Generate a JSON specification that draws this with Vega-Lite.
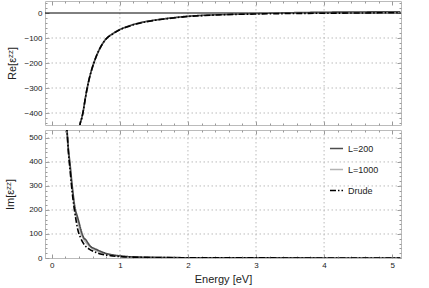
{
  "$schema": "https://vega.github.io/schema/vega-lite/v6.json",
  "padding": {"left": 4, "top": -2, "right": 0, "bottom": 0},
  "spacing": 0,
  "config": {
    "view": {"stroke": "#bbbbbb", "strokeWidth": 1},
    "font": "Liberation Sans",
    "axis": {
      "domain": false,
      "grid": false,
      "minExtent": 0,
      "tickColor": "#999999",
      "labelOverlap": false,
      "labelPadding": 7,
      "labelFont": "Liberation Sans",
      "labelFontSize": 8,
      "labelColor": "#222222",
      "titleFont": "Liberation Sans",
      "titleFontWeight": "normal",
      "titleFontSize": 11,
      "titleColor": "#222222"
    },
    "legend": {
      "symbolType": "stroke", "symbolSize": 170, "symbolStrokeWidth": 1.6,
      "labelFont": "Liberation Sans", "labelFontSize": 9, "labelColor": "#222222",
      "rowPadding": 8, "labelOffset": 4
    }
  },
  "datasets": {
    "re": [
      {"s": "L=1000", "x": 0.36, "y": -640}, {"s": "L=1000", "x": 0.39, "y": -520}, {"s": "L=1000", "x": 0.41, "y": -455}, {"s": "L=1000", "x": 0.44, "y": -420}, {"s": "L=1000", "x": 0.46, "y": -395}, {"s": "L=1000", "x": 0.49, "y": -345}, {"s": "L=1000", "x": 0.52, "y": -300}, {"s": "L=1000", "x": 0.56, "y": -252}, {"s": "L=1000", "x": 0.62, "y": -198}, {"s": "L=1000", "x": 0.7, "y": -145}, {"s": "L=1000", "x": 0.79, "y": -106}, {"s": "L=1000", "x": 0.9, "y": -82}, {"s": "L=1000", "x": 1.0, "y": -66}, {"s": "L=1000", "x": 1.1, "y": -55}, {"s": "L=1000", "x": 1.2, "y": -46}, {"s": "L=1000", "x": 1.35, "y": -36}, {"s": "L=1000", "x": 1.5, "y": -29}, {"s": "L=1000", "x": 1.75, "y": -20}, {"s": "L=1000", "x": 2.0, "y": -13}, {"s": "L=1000", "x": 2.25, "y": -9}, {"s": "L=1000", "x": 2.5, "y": -6}, {"s": "L=1000", "x": 3.0, "y": -2}, {"s": "L=1000", "x": 3.5, "y": 0}, {"s": "L=1000", "x": 4.0, "y": 2}, {"s": "L=1000", "x": 4.5, "y": 3}, {"s": "L=1000", "x": 5.0, "y": 4}, {"s": "L=1000", "x": 5.12, "y": 4},
      {"s": "L=200", "x": 0.36, "y": -640}, {"s": "L=200", "x": 0.39, "y": -520}, {"s": "L=200", "x": 0.41, "y": -455}, {"s": "L=200", "x": 0.44, "y": -420}, {"s": "L=200", "x": 0.46, "y": -395}, {"s": "L=200", "x": 0.49, "y": -345}, {"s": "L=200", "x": 0.52, "y": -300}, {"s": "L=200", "x": 0.56, "y": -252}, {"s": "L=200", "x": 0.62, "y": -198}, {"s": "L=200", "x": 0.7, "y": -145}, {"s": "L=200", "x": 0.79, "y": -106}, {"s": "L=200", "x": 0.9, "y": -82}, {"s": "L=200", "x": 1.0, "y": -66}, {"s": "L=200", "x": 1.1, "y": -55}, {"s": "L=200", "x": 1.2, "y": -46}, {"s": "L=200", "x": 1.35, "y": -36}, {"s": "L=200", "x": 1.5, "y": -29}, {"s": "L=200", "x": 1.75, "y": -20}, {"s": "L=200", "x": 2.0, "y": -13}, {"s": "L=200", "x": 2.25, "y": -9}, {"s": "L=200", "x": 2.5, "y": -6}, {"s": "L=200", "x": 3.0, "y": -2}, {"s": "L=200", "x": 3.5, "y": 1}, {"s": "L=200", "x": 4.0, "y": 3}, {"s": "L=200", "x": 4.5, "y": 4}, {"s": "L=200", "x": 5.0, "y": 5}, {"s": "L=200", "x": 5.12, "y": 5},
      {"s": "Drude", "x": 0.36, "y": -640}, {"s": "Drude", "x": 0.39, "y": -520}, {"s": "Drude", "x": 0.41, "y": -455}, {"s": "Drude", "x": 0.44, "y": -420}, {"s": "Drude", "x": 0.46, "y": -395}, {"s": "Drude", "x": 0.49, "y": -345}, {"s": "Drude", "x": 0.52, "y": -300}, {"s": "Drude", "x": 0.56, "y": -252}, {"s": "Drude", "x": 0.62, "y": -198}, {"s": "Drude", "x": 0.7, "y": -145}, {"s": "Drude", "x": 0.79, "y": -106}, {"s": "Drude", "x": 0.9, "y": -83}, {"s": "Drude", "x": 1.0, "y": -67}, {"s": "Drude", "x": 1.1, "y": -56}, {"s": "Drude", "x": 1.2, "y": -47}, {"s": "Drude", "x": 1.35, "y": -37}, {"s": "Drude", "x": 1.5, "y": -30}, {"s": "Drude", "x": 1.75, "y": -21}, {"s": "Drude", "x": 2.0, "y": -14}, {"s": "Drude", "x": 2.25, "y": -10}, {"s": "Drude", "x": 2.5, "y": -7}, {"s": "Drude", "x": 3.0, "y": -4}, {"s": "Drude", "x": 3.5, "y": -2}, {"s": "Drude", "x": 4.0, "y": -1}, {"s": "Drude", "x": 4.5, "y": 0}, {"s": "Drude", "x": 5.0, "y": 1}, {"s": "Drude", "x": 5.12, "y": 1}
    ],
    "im": [
      {"s": "L=1000", "x": 0.205, "y": 600}, {"s": "L=1000", "x": 0.22, "y": 530}, {"s": "L=1000", "x": 0.24, "y": 450}, {"s": "L=1000", "x": 0.26, "y": 400}, {"s": "L=1000", "x": 0.295, "y": 300}, {"s": "L=1000", "x": 0.34, "y": 200}, {"s": "L=1000", "x": 0.365, "y": 170}, {"s": "L=1000", "x": 0.4, "y": 132}, {"s": "L=1000", "x": 0.43, "y": 102}, {"s": "L=1000", "x": 0.47, "y": 78}, {"s": "L=1000", "x": 0.51, "y": 62}, {"s": "L=1000", "x": 0.56, "y": 47}, {"s": "L=1000", "x": 0.6, "y": 38}, {"s": "L=1000", "x": 0.66, "y": 30}, {"s": "L=1000", "x": 0.72, "y": 23}, {"s": "L=1000", "x": 0.8, "y": 17}, {"s": "L=1000", "x": 0.9, "y": 11}, {"s": "L=1000", "x": 1.0, "y": 8}, {"s": "L=1000", "x": 1.2, "y": 4.5}, {"s": "L=1000", "x": 1.5, "y": 2.3}, {"s": "L=1000", "x": 2.0, "y": 1.1}, {"s": "L=1000", "x": 3.0, "y": 0.5}, {"s": "L=1000", "x": 4.0, "y": 0.25}, {"s": "L=1000", "x": 5.0, "y": 0.15}, {"s": "L=1000", "x": 5.12, "y": 0.15},
      {"s": "L=200", "x": 0.21, "y": 600}, {"s": "L=200", "x": 0.225, "y": 530}, {"s": "L=200", "x": 0.245, "y": 450}, {"s": "L=200", "x": 0.265, "y": 400}, {"s": "L=200", "x": 0.3, "y": 300}, {"s": "L=200", "x": 0.35, "y": 196}, {"s": "L=200", "x": 0.37, "y": 178}, {"s": "L=200", "x": 0.4, "y": 148}, {"s": "L=200", "x": 0.435, "y": 110}, {"s": "L=200", "x": 0.47, "y": 84}, {"s": "L=200", "x": 0.5, "y": 76}, {"s": "L=200", "x": 0.53, "y": 63}, {"s": "L=200", "x": 0.57, "y": 48}, {"s": "L=200", "x": 0.62, "y": 40}, {"s": "L=200", "x": 0.66, "y": 35}, {"s": "L=200", "x": 0.72, "y": 27}, {"s": "L=200", "x": 0.8, "y": 19}, {"s": "L=200", "x": 0.9, "y": 13}, {"s": "L=200", "x": 1.0, "y": 9}, {"s": "L=200", "x": 1.1, "y": 6}, {"s": "L=200", "x": 1.25, "y": 4}, {"s": "L=200", "x": 1.5, "y": 2.5}, {"s": "L=200", "x": 2.0, "y": 1.2}, {"s": "L=200", "x": 3.0, "y": 0.5}, {"s": "L=200", "x": 4.0, "y": 0.3}, {"s": "L=200", "x": 5.0, "y": 0.2}, {"s": "L=200", "x": 5.12, "y": 0.2},
      {"s": "Drude", "x": 0.2, "y": 600}, {"s": "Drude", "x": 0.22, "y": 540}, {"s": "Drude", "x": 0.25, "y": 420}, {"s": "Drude", "x": 0.27, "y": 360}, {"s": "Drude", "x": 0.29, "y": 300}, {"s": "Drude", "x": 0.31, "y": 248}, {"s": "Drude", "x": 0.33, "y": 205}, {"s": "Drude", "x": 0.36, "y": 150}, {"s": "Drude", "x": 0.38, "y": 120}, {"s": "Drude", "x": 0.42, "y": 86}, {"s": "Drude", "x": 0.46, "y": 63}, {"s": "Drude", "x": 0.5, "y": 48}, {"s": "Drude", "x": 0.55, "y": 37}, {"s": "Drude", "x": 0.6, "y": 29}, {"s": "Drude", "x": 0.65, "y": 23}, {"s": "Drude", "x": 0.7, "y": 18}, {"s": "Drude", "x": 0.8, "y": 12}, {"s": "Drude", "x": 0.9, "y": 8.5}, {"s": "Drude", "x": 1.0, "y": 6}, {"s": "Drude", "x": 1.2, "y": 3.5}, {"s": "Drude", "x": 1.5, "y": 2}, {"s": "Drude", "x": 2.0, "y": 1}, {"s": "Drude", "x": 3.0, "y": 0.4}, {"s": "Drude", "x": 4.0, "y": 0.2}, {"s": "Drude", "x": 5.0, "y": 0.1}, {"s": "Drude", "x": 5.12, "y": 0.1}
    ],
    "gx": [{"x": 1}, {"x": 2}, {"x": 3}, {"x": 4}],
    "gyTop": [{"y": -400}, {"y": -300}, {"y": -200}, {"y": -100}],
    "gyBot": [{"y": 100}, {"y": 200}, {"y": 300}, {"y": 400}, {"y": 500}],
    "zero": [{"y": 0}]
  },
  "vconcat": [
    {
      "width": 356,
      "height": 124,
      "resolve": {"axis": {"x": "independent", "y": "independent"}},
      "layer": [
        {
          "data": {"name": "gx"},
          "mark": {"type": "rule", "color": "#bbbbbb", "strokeDash": [1.5, 2.5], "strokeWidth": 1},
          "encoding": {"x": {"field": "x", "type": "quantitative", "scale": {"domain": [-0.1, 5.13], "nice": false, "zero": false},
            "axis": {"orient": "top", "title": null, "labels": false, "maxExtent": 0, "values": [0, 0.2, 0.4, 0.6, 0.8, 1, 1.2, 1.4, 1.6, 1.8, 2, 2.2, 2.4, 2.6, 2.8, 3, 3.2, 3.4, 3.6, 3.8, 4, 4.2, 4.4, 4.6, 4.8, 5],
              "tickSize": {"condition": {"test": "abs(datum.value - round(datum.value)) < 0.001", "value": -4}, "value": -2}}}}
        },
        {
          "data": {"name": "gyTop"},
          "mark": {"type": "rule", "color": "#bbbbbb", "strokeDash": [1.5, 2.5], "strokeWidth": 1},
          "encoding": {"y": {"field": "y", "type": "quantitative", "scale": {"domain": [-448, 48], "nice": false, "zero": false},
            "axis": {"orient": "right", "title": null, "labels": false, "maxExtent": 0, "values": [-440, -420, -400, -380, -360, -340, -320, -300, -280, -260, -240, -220, -200, -180, -160, -140, -120, -100, -80, -60, -40, -20, 0, 20, 40],
              "tickSize": {"condition": {"test": "datum.value % 100 === 0", "value": -4}, "value": -2}}}}
        },
        {
          "data": {"name": "zero"},
          "mark": {"type": "rule", "color": "#000000", "strokeWidth": 1},
          "encoding": {"y": {"field": "y", "type": "quantitative", "axis": null}}
        },
        {
          "data": {"name": "re"},
          "mark": {"type": "line", "clip": true, "strokeWidth": 1.6, "interpolate": "monotone"},
          "encoding": {
            "x": {"field": "x", "type": "quantitative",
              "axis": {"labels": false, "title": null, "maxExtent": 0, "values": [0, 0.2, 0.4, 0.6, 0.8, 1, 1.2, 1.4, 1.6, 1.8, 2, 2.2, 2.4, 2.6, 2.8, 3, 3.2, 3.4, 3.6, 3.8, 4, 4.2, 4.4, 4.6, 4.8, 5],
                "tickSize": {"condition": {"test": "abs(datum.value - round(datum.value)) < 0.001", "value": -4}, "value": -2}}},
            "y": {"field": "y", "type": "quantitative",
              "axis": {"title": "Re[εᶻᶻ]", "titlePadding": 6, "values": [-440, -420, -400, -380, -360, -340, -320, -300, -280, -260, -240, -220, -200, -180, -160, -140, -120, -100, -80, -60, -40, -20, 0, 20, 40],
                "labelExpr": "datum.value % 100 === 0 ? datum.label : ''",
                "tickSize": {"condition": {"test": "datum.value % 100 === 0", "value": -4}, "value": -2}}},
            "color": {"field": "s", "type": "nominal", "scale": {"domain": ["L=200", "L=1000", "Drude"], "range": ["#4d4d4d", "#b3b3b3", "#000000"]},
              "legend": {"title": null, "orient": "none", "legendX": 284, "legendY": 140}},
            "strokeDash": {"field": "s", "type": "nominal", "scale": {"domain": ["L=200", "L=1000", "Drude"], "range": [[1, 0], [1, 0], [6, 2, 1.5, 2]]},
              "legend": {"title": null, "orient": "none", "legendX": 284, "legendY": 140}}
          }
        }
      ]
    },
    {
      "width": 356,
      "height": 128,
      "resolve": {"axis": {"x": "independent", "y": "independent"}},
      "layer": [
        {
          "data": {"name": "gx"},
          "mark": {"type": "rule", "color": "#bbbbbb", "strokeDash": [1.5, 2.5], "strokeWidth": 1},
          "encoding": {"x": {"field": "x", "type": "quantitative", "scale": {"domain": [-0.1, 5.13], "nice": false, "zero": false},
            "axis": {"orient": "top", "title": null, "labels": false, "maxExtent": 0, "values": [0, 0.2, 0.4, 0.6, 0.8, 1, 1.2, 1.4, 1.6, 1.8, 2, 2.2, 2.4, 2.6, 2.8, 3, 3.2, 3.4, 3.6, 3.8, 4, 4.2, 4.4, 4.6, 4.8, 5],
              "tickSize": {"condition": {"test": "abs(datum.value - round(datum.value)) < 0.001", "value": -4}, "value": -2}}}}
        },
        {
          "data": {"name": "gyBot"},
          "mark": {"type": "rule", "color": "#bbbbbb", "strokeDash": [1.5, 2.5], "strokeWidth": 1},
          "encoding": {"y": {"field": "y", "type": "quantitative", "scale": {"domain": [0, 533], "nice": false, "zero": false},
            "axis": {"orient": "right", "title": null, "labels": false, "maxExtent": 0, "values": [0, 20, 40, 60, 80, 100, 120, 140, 160, 180, 200, 220, 240, 260, 280, 300, 320, 340, 360, 380, 400, 420, 440, 460, 480, 500, 520],
              "tickSize": {"condition": {"test": "datum.value % 100 === 0", "value": -4}, "value": -2}}}}
        },
        {
          "data": {"name": "im"},
          "mark": {"type": "line", "clip": true, "strokeWidth": 1.6, "interpolate": "monotone"},
          "encoding": {
            "x": {"field": "x", "type": "quantitative",
              "axis": {"title": "Energy [eV]", "titlePadding": 2, "values": [0, 0.2, 0.4, 0.6, 0.8, 1, 1.2, 1.4, 1.6, 1.8, 2, 2.2, 2.4, 2.6, 2.8, 3, 3.2, 3.4, 3.6, 3.8, 4, 4.2, 4.4, 4.6, 4.8, 5],
                "labelExpr": "abs(datum.value - round(datum.value)) < 0.001 ? format(datum.value, 'd') : ''",
                "tickSize": {"condition": {"test": "abs(datum.value - round(datum.value)) < 0.001", "value": -4}, "value": -2}}},
            "y": {"field": "y", "type": "quantitative",
              "axis": {"title": "Im[εᶻᶻ]", "titlePadding": 13, "values": [0, 20, 40, 60, 80, 100, 120, 140, 160, 180, 200, 220, 240, 260, 280, 300, 320, 340, 360, 380, 400, 420, 440, 460, 480, 500, 520],
                "labelExpr": "datum.value % 100 === 0 ? datum.label : ''",
                "tickSize": {"condition": {"test": "datum.value % 100 === 0", "value": -4}, "value": -2}}},
            "color": {"field": "s", "type": "nominal", "scale": {"domain": ["L=200", "L=1000", "Drude"], "range": ["#4d4d4d", "#b3b3b3", "#000000"]},
              "legend": {"title": null, "orient": "none", "legendX": 284, "legendY": 140}},
            "strokeDash": {"field": "s", "type": "nominal", "scale": {"domain": ["L=200", "L=1000", "Drude"], "range": [[1, 0], [1, 0], [6, 2, 1.5, 2]]},
              "legend": {"title": null, "orient": "none", "legendX": 284, "legendY": 140}}
          }
        }
      ]
    }
  ]
}
